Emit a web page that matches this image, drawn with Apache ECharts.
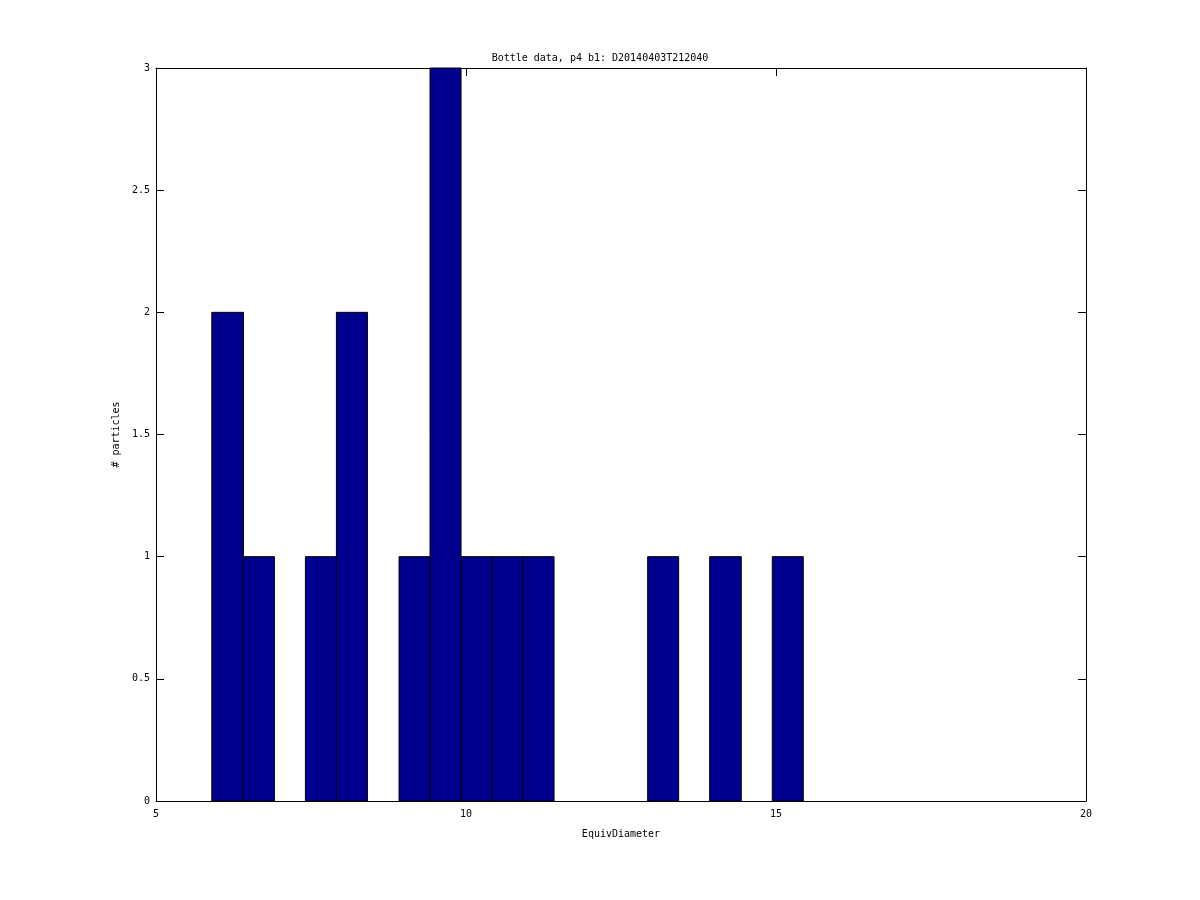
<!DOCTYPE html>
<html>
<head>
<meta charset="utf-8">
<script src="https://cdn.jsdelivr.net/npm/echarts@6/dist/echarts.min.js"></script>
<style>
  html, body { margin: 0; padding: 0; background: #fff; }
  #chart { width: 1200px; height: 900px; }
</style>
</head>
<body>
<div id="chart"></div>
<script>
// histogram bins (left edge, right edge, count)
var binLeft  = [5.90, 6.41, 7.41, 7.91, 8.92, 9.42, 9.92, 10.42, 10.92, 12.93, 13.93, 14.94];
var binRight = [6.41, 6.91, 7.91, 8.41, 9.42, 9.92, 10.42, 10.92, 11.42, 13.43, 14.44, 15.44];
var counts   = [2, 1, 1, 2, 1, 3, 1, 1, 1, 1, 1, 1];

var data = [];
for (var i = 0; i < counts.length; i++) {
  data.push([binLeft[i], binRight[i], counts[i]]);
}

var font = 'DejaVu Sans Mono';
var chart = echarts.init(document.getElementById('chart'));

var tick = { show: true, inside: true, length: 8, lineStyle: { color: '#000' } };
var line = { show: true, onZero: false, lineStyle: { color: '#000', width: 1 } };

chart.setOption({
  animation: false,
  title: {
    text: 'Bottle data, p4 b1: D20140403T212040',
    left: 'center',
    top: 48,
    textStyle: { fontFamily: font, fontSize: 10, fontWeight: 'normal', color: '#000' }
  },
  grid: { left: 156, right: 114, top: 68, bottom: 99 },
  xAxis: [{
    type: 'value', min: 5, max: 20, interval: 5,
    name: 'EquivDiameter', nameLocation: 'middle', nameGap: 28,
    nameTextStyle: { fontFamily: font, fontSize: 10, color: '#000' },
    axisLine: line, axisTick: tick,
    axisLabel: { fontFamily: font, fontSize: 10, color: '#000', margin: 8 },
    splitLine: { show: false }
  }, {
    type: 'value', min: 5, max: 20, interval: 5, position: 'top',
    axisLine: line, axisTick: tick, axisLabel: { show: false }, splitLine: { show: false }
  }],
  yAxis: [{
    type: 'value', min: 0, max: 3, interval: 0.5,
    name: '# particles', nameLocation: 'middle', nameGap: 33, nameRotate: 90,
    nameTextStyle: { fontFamily: font, fontSize: 10, color: '#000' },
    axisLine: line, axisTick: tick,
    axisLabel: { fontFamily: font, fontSize: 10, color: '#000', margin: 6 },
    splitLine: { show: false }
  }, {
    type: 'value', min: 0, max: 3, interval: 0.5, position: 'right',
    axisLine: line, axisTick: tick, axisLabel: { show: false }, splitLine: { show: false }
  }],
  series: [{
    type: 'custom',
    xAxisIndex: 0, yAxisIndex: 0,
    encode: { x: [0, 1], y: 2 },
    data: data,
    renderItem: function (params, api) {
      var p0 = api.coord([api.value(0), 0]);
      var p1 = api.coord([api.value(1), api.value(2)]);
      return {
        type: 'rect',
        shape: { x: p0[0], y: p1[1], width: p1[0] - p0[0], height: p0[1] - p1[1] },
        style: { fill: '#00008F', stroke: '#000', lineWidth: 1 }
      };
    }
  }]
});
</script>
</body>
</html>
